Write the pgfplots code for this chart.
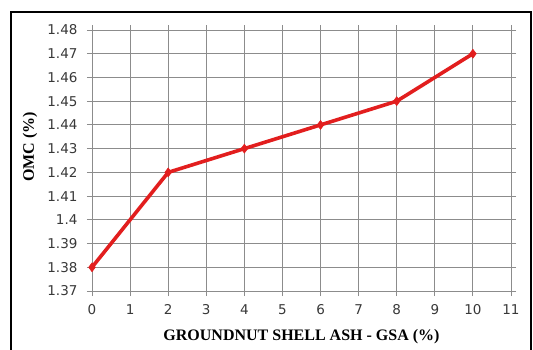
\documentclass[border=0pt]{standalone}
\usepackage{pgfplots}
\pgfplotsset{compat=1.18}
\usepackage{fontspec}
\setmainfont{Liberation Serif}
\newfontfamily\tickfont{DejaVu Sans}
\definecolor{linered}{RGB}{226,30,30}
\definecolor{gridgray}{RGB}{140,140,140}
\begin{document}
\begin{tikzpicture}
\useasboundingbox (0pt,0pt) rectangle (533pt,349pt);
\draw[line width=2.6pt,black] (11pt,-5pt) -- (11pt,337pt) -- (531pt,337pt) -- (531pt,-5pt);
\begin{axis}[
  at={(92pt,58pt)}, anchor=south west,
  scale only axis, width=419pt, height=261pt,
  xmin=0, xmax=11, ymin=1.37, ymax=1.48,
  xtick={0,1,...,11},
  ytick={1.37,1.38,1.39,1.40,1.41,1.42,1.43,1.44,1.45,1.46,1.47,1.48},
  grid=major,
  major grid style={gridgray, line width=0.9pt},
  axis line style={gridgray, line width=0.9pt},
  tick style={gridgray, line width=0.9pt},
  tick align=outside,
  major tick length=5pt,
  tick label style={font=\tickfont\fontsize{13.5}{16}\selectfont, text=black!78},
  /pgf/number format/assume math mode=true,
  yticklabel style={/pgf/number format/precision=2},
  xticklabel style={yshift=-5pt},
  yticklabel style={xshift=-6pt},
  xlabel={\textbf{GROUNDNUT SHELL ASH - GSA (\%)}},
  ylabel={\textbf{OMC (\%)}},
  label style={font=\fontsize{16}{18}\selectfont},
  xlabel style={at={(axis description cs:0.5,-0.176)}, anchor=center},
  ylabel style={at={(axis description cs:-0.148,0.552)}, anchor=center},
]
\addplot[linered, line width=3.6pt, mark=diamond*, mark size=4.5pt, mark options={fill=linered, draw=linered, line width=0.5pt}]
coordinates {(0,1.38) (2,1.42) (4,1.43) (6,1.44) (8,1.45) (10,1.47)};
\end{axis}
\end{tikzpicture}
\end{document}
